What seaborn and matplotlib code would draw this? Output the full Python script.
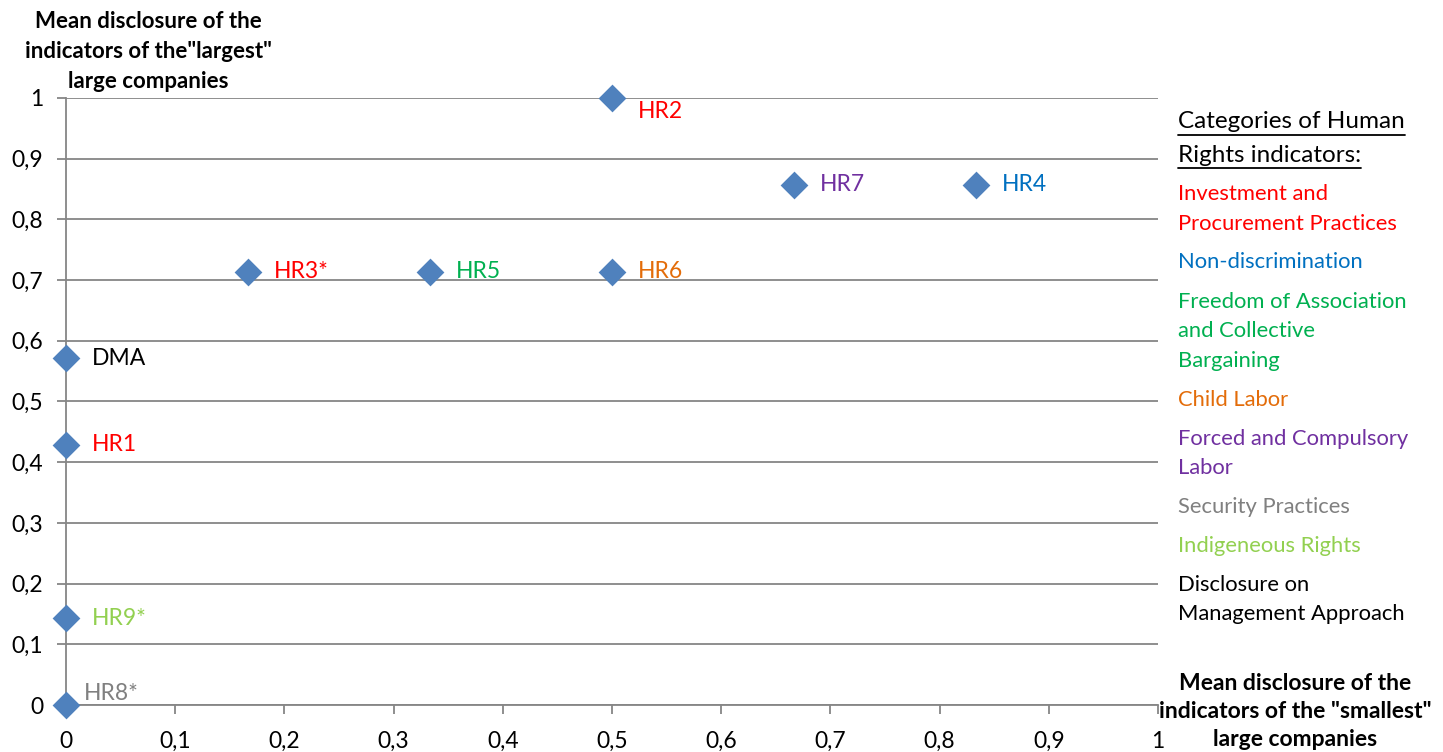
import matplotlib
matplotlib.use("Agg")
import matplotlib.pyplot as plt
import seaborn as sns
import pandas as pd
from matplotlib.ticker import FuncFormatter, MultipleLocator

# Mean disclosure per Human Rights indicator
indicators = ["HR2", "HR7", "HR4", "HR3*", "HR5", "HR6", "DMA", "HR1", "HR9*", "HR8*"]
smallest = [0.5, 0.667, 0.833, 0.167, 0.333, 0.5, 0.0, 0.0, 0.0, 0.0]
largest = [1.0, 0.857, 0.857, 0.714, 0.714, 0.714, 0.571, 0.429, 0.143, 0.0]
label_colors = ["#FF0000", "#7030A0", "#0070C0", "#FF0000", "#00B050",
                "#E36C09", "#000000", "#FF0000", "#92D050", "#808080"]

categories = ["Investment and\nProcurement Practices", "Non-discrimination",
              "Freedom of Association\nand Collective\nBargaining", "Child Labor",
              "Forced and Compulsory\nLabor", "Security Practices",
              "Indigeneous Rights", "Disclosure on\nManagement Approach"]
category_colors = ["#FF0000", "#0070C0", "#00B050", "#E36C09", "#7030A0",
                   "#808080", "#92D050", "#000000"]

df = pd.DataFrame({"x": smallest, "y": largest, "label": indicators})

sns.set_theme(style="white")
plt.rcParams["font.family"] = ["Lato", "DejaVu Sans"]
plt.rcParams["text.color"] = "#000000"

W, H = 1443, 752
fig = plt.figure(figsize=(W / 100, H / 100), dpi=100)
ax = fig.add_axes([66 / W, 1 - 705 / H, (1158 - 66) / W, (705 - 98) / H])

sns.scatterplot(data=df, x="x", y="y", marker="D", s=200, color="#4F81BD",
                edgecolor="#4F81BD", linewidth=0, ax=ax, zorder=5, clip_on=False)

ax.set_xlim(0, 1)
ax.set_ylim(0, 1)
ax.xaxis.set_major_locator(MultipleLocator(0.1))
ax.yaxis.set_major_locator(MultipleLocator(0.1))
fmt = FuncFormatter(lambda v, p: ("%g" % round(v, 1)).replace(".", ","))
ax.xaxis.set_major_formatter(fmt)
ax.yaxis.set_major_formatter(fmt)
ax.set_xlabel("")
ax.set_ylabel("")

ax.grid(axis="y", color="#868686", linewidth=1.3)
ax.grid(axis="x", visible=False)
for side in ["top", "right"]:
    ax.spines[side].set_visible(False)
for side in ["left", "bottom"]:
    ax.spines[side].set_color("#868686")
    ax.spines[side].set_linewidth(1.3)

ax.tick_params(axis="x", which="major", bottom=True, direction="out", length=6.5,
               width=1.3, color="#868686", labelsize=16.5, pad=12,
               labelcolor="#000000")
ax.tick_params(axis="y", which="major", left=True, direction="out", length=6.5,
               width=1.3, color="#868686", labelsize=16.5, pad=10,
               labelcolor="#000000")

# Point labels
for name, xv, yv, c in zip(indicators, smallest, largest, label_colors):
    if name == "HR2":
        dx, dy = 26, -14
    elif name == "HR8*":
        dx, dy = 18, 12
    else:
        dx, dy = 26, 0
    ax.annotate(name, (xv, yv), xytext=(dx * 0.72, dy * 0.72), textcoords="offset points",
                color=c, fontsize=16.5, va="center", ha="left", zorder=6)

# Axis titles
for i, line in enumerate(["Mean disclosure of the", "indicators of the\"largest\"",
                          "large companies"]):
    fig.text(148 / W, 1 - (22 + 30 * i) / H, line, ha="center", va="center",
             fontsize=16, fontweight="bold", color="#000000")
for i, line in enumerate(["Mean disclosure of the", "indicators of the \"smallest\"",
                          "large companies"]):
    fig.text(1295 / W, 1 - (683 + 28.5 * i) / H, line, ha="center", va="center",
             fontsize=16.5, fontweight="bold", color="#000000")

# Category key with underlined heading
fig.canvas.draw()
renderer = fig.canvas.get_renderer()
for i, line in enumerate(["Categories of Human", "Rights indicators:"]):
    t = fig.text(1178 / W, 1 - (122 + 33 * i) / H, line, ha="left", va="center",
                 fontsize=17.5, color="#000000")
    bb = t.get_window_extent(renderer)
    yline = 1 - (122 + 33 * i + 13) / H
    fig.add_artist(plt.Line2D([bb.x0 / W, bb.x1 / W], [yline, yline],
                              color="black", linewidth=1.3))

y = 194
for text, c in zip(categories, category_colors):
    for line in text.split("\n"):
        fig.text(1178 / W, 1 - y / H, line, ha="left", va="center", fontsize=15.8, color=c)
        y += 29.5
    y += 9.5

fig.savefig("out.png", dpi=100)
